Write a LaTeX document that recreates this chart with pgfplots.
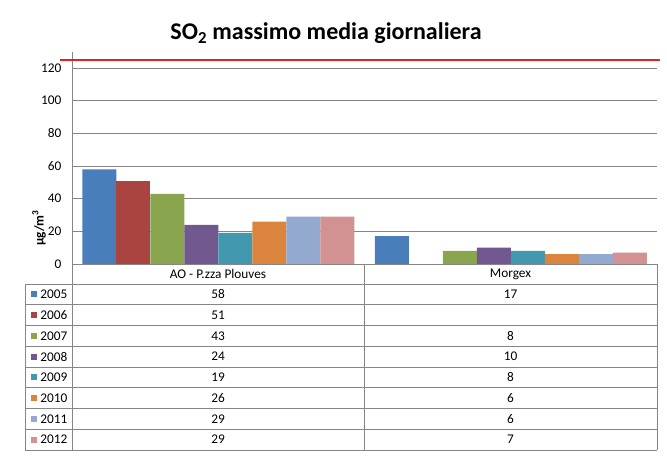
\documentclass[border=0pt]{standalone}
\usepackage{pgfplots}
\pgfplotsset{compat=1.18}
\usepackage{fontspec}
\setmainfont{Carlito}

\definecolor{c2005}{RGB}{74,126,187}
\definecolor{c2006}{RGB}{170,68,65}
\definecolor{c2007}{RGB}{137,165,78}
\definecolor{c2008}{RGB}{113,88,143}
\definecolor{c2009}{RGB}{65,152,175}
\definecolor{c2010}{RGB}{219,132,61}
\definecolor{c2011}{RGB}{147,169,207}
\definecolor{c2012}{RGB}{209,146,145}
\definecolor{gridgray}{RGB}{134,134,134}
\definecolor{limred}{RGB}{228,32,32}

\begin{document}
\begin{tikzpicture}[font=\fontsize{13.3}{16}\selectfont]
\path[use as bounding box] (0pt,0pt) rectangle (667pt,461pt);

\begin{axis}[
    at={(72pt,197pt)}, anchor=south west,
    scale only axis,
    width=585pt, height=212.3pt,
    ybar=0pt, bar width=34pt,
    xmin=-0.5, xmax=1.5,
    ymin=0, ymax=130,
    xtick=\empty,
    ytick={0,20,...,120},
    ymajorgrids,
    grid style={gridgray, line width=0.8pt},
    axis lines*=left,
    axis line style={gridgray, line width=0.8pt, -},
    major tick length=0pt,
    tick label style={font=\fontsize{13.3}{16}\selectfont},
    /pgf/number format/assume math mode=true,
    yticklabel style={xshift=-7pt},
    clip=false,
]
\addplot[fill=c2005, draw=none] coordinates {(0,58) (1,17)};
\addplot[fill=c2006, draw=none] coordinates {(0,51)};
\addplot[fill=c2007, draw=none] coordinates {(0,43) (1,8)};
\addplot[fill=c2008, draw=none] coordinates {(0,24) (1,10)};
\addplot[fill=c2009, draw=none] coordinates {(0,19) (1,8)};
\addplot[fill=c2010, draw=none] coordinates {(0,26) (1,6)};
\addplot[fill=c2011, draw=none] coordinates {(0,29) (1,6)};
\addplot[fill=c2012, draw=none] coordinates {(0,29) (1,7)};
% limit value
\addplot[sharp plot, draw=limred, line width=2.5pt, forget plot]
    coordinates {(-0.541,125) (1.51,125)};
\end{axis}

% title and unit
\node[anchor=base, font=\fontsize{24}{28}\selectfont\bfseries]
    at (326pt,421pt) {SO\textsubscript{2} massimo media giornaliera};
\node[rotate=90, font=\fontsize{13.3}{16}\selectfont\bfseries]
    at (39pt,233pt) {µg/m\textsuperscript{3}};

% data table
\begin{scope}[x=1pt, y=1pt, draw=gridgray, line width=0.8pt]
\draw (72,197) -- (657,197);
\foreach \k in {0,...,8}
    \draw (25,{177-20.75*\k}) -- (657,{177-20.75*\k});
\draw (25,177) -- (25,11);
\draw (72,197) -- (72,11);
\draw (364.5,197) -- (364.5,11);
\draw (657,197) -- (657,11);
\node at (218,187) {AO - P.zza Plouves};
\node at (510.5,187) {Morgex};
\foreach \yr/\a/\b [count=\i from 0] in
    {2005/58/17, 2006/51/{}, 2007/43/8, 2008/24/10,
     2009/19/8, 2010/26/6, 2011/29/6, 2012/29/7} {
    \pgfmathsetmacro\yy{166.6-20.75*\i}
    \fill[c\yr] (31,\yy-3) rectangle (37,\yy+3);
    \node[anchor=west, inner sep=0pt] at (40,\yy) {\yr};
    \node at (218,\yy) {\a};
    \node at (510.5,\yy) {\b};
}
\end{scope}
\end{tikzpicture}
\end{document}
